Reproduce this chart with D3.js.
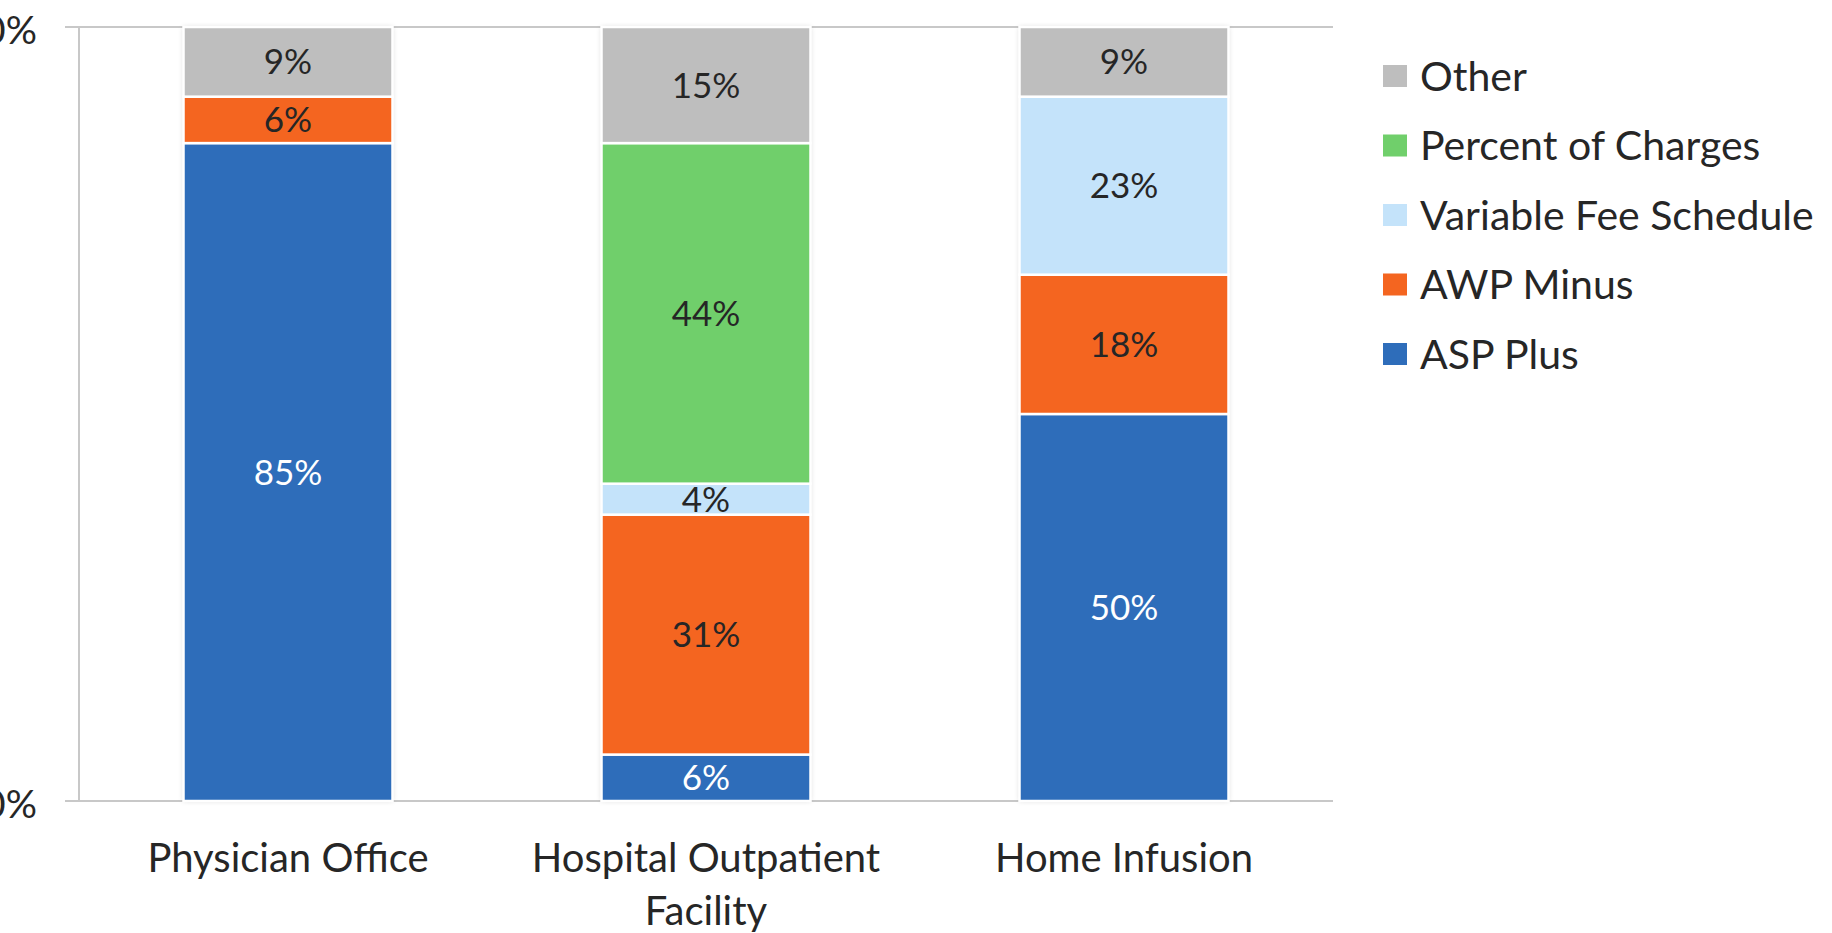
<!DOCTYPE html>
<html>
<head>
<meta charset="utf-8">
<script src="https://cdn.jsdelivr.net/npm/d3@7"></script>
<style>
  html, body { margin: 0; padding: 0; background: #fff; overflow: hidden; }
  svg { display: block; }
  text { font-family: Lato, "Open Sans", sans-serif; }
</style>
</head>
<body>
<svg id="chart" width="1832" height="933"></svg>
<script>
// ---- data ----
const categories = ["Physician Office", "Hospital Outpatient Facility", "Home Infusion"];
const seriesNames = ["ASP Plus", "AWP Minus", "Variable Fee Schedule", "Percent of Charges", "Other"];
const seriesColors = ["#2E6DBA", "#F46520", "#C4E3FA", "#70CF6B", "#BEBEBE"];
const labelColors = ["#ffffff", "#262626", "#262626", "#262626", "#262626"];
const aspPlus = [85, 6, 50];
const awpMinus = [6, 31, 18];
const variableFee = [0, 4, 23];
const percentCharges = [0, 44, 0];
const other = [9, 15, 9];
const yTickValues = [0, 100];

const seriesValues = [aspPlus, awpMinus, variableFee, percentCharges, other];

// ---- layout ----
const svg = d3.select("#chart");
const margin = { left: 79, right: 1832 - 1333, top: 27, bottom: 933 - 801 };
const W = 1832, H = 933;
const plotW = W - margin.left - margin.right;
const plotH = H - margin.top - margin.bottom;

const rows = categories.map((c, i) => {
  const r = { category: c };
  seriesNames.forEach((s, k) => r[s] = seriesValues[k][i]);
  return r;
});
const stack = d3.stack().keys(seriesNames)(rows);

const x = d3.scaleBand().domain(categories).range([0, plotW]).paddingInner(0.5).paddingOuter(0.25);
const y = d3.scaleLinear().domain([0, 100]).range([plotH, 0]);
const color = d3.scaleOrdinal().domain(seriesNames).range(seriesColors);

const defs = svg.append("defs");
const f = defs.append("filter").attr("id", "shadow").attr("x", "-10%").attr("y", "-5%").attr("width", "120%").attr("height", "110%");
f.append("feDropShadow").attr("dx", 0).attr("dy", 0).attr("stdDeviation", 2.5).attr("flood-color", "#000").attr("flood-opacity", 0.18);

const g = svg.append("g").attr("transform", `translate(${margin.left},${margin.top})`);

// axis lines (top gridline & baseline)
const axisColor = "#C8C8C8";
g.selectAll("line.h").data(yTickValues).enter().append("line")
  .attr("x1", -14).attr("x2", plotW)
  .attr("y1", d => y(d)).attr("y2", d => y(d))
  .attr("stroke", axisColor).attr("stroke-width", 2);
g.append("line").attr("x1", 0).attr("x2", 0).attr("y1", y(100)).attr("y2", y(0))
  .attr("stroke", axisColor).attr("stroke-width", 2);

// y labels
g.selectAll("text.ylab").data(yTickValues).enter().append("text")
  .attr("class", "ylab")
  .attr("x", 37 - margin.left).attr("y", d => y(d) + 3)
  .attr("dy", "0.35em").attr("text-anchor", "end")
  .attr("font-size", 39).attr("fill", "#262626")
  .text(d => d + "%");

// bar shadows
g.selectAll("rect.bg").data(categories).enter().append("rect")
  .attr("x", d => x(d)).attr("width", x.bandwidth())
  .attr("y", y(100)).attr("height", y(0) - y(100))
  .attr("fill", "#fff").attr("filter", "url(#shadow)");

// bars
const layers = g.selectAll("g.layer").data(stack).enter().append("g")
  .attr("fill", d => color(d.key));
layers.selectAll("rect").data(d => d.filter(p => p[1] - p[0] > 0)).enter().append("rect")
  .attr("x", d => x(d.data.category))
  .attr("width", x.bandwidth())
  .attr("y", d => y(d[1]))
  .attr("height", d => y(d[0]) - y(d[1]))
  .attr("stroke", "#fff").attr("stroke-width", 2.5);

// data labels
stack.forEach((layer, k) => {
  g.selectAll(null).data(layer.filter(p => p[1] - p[0] > 0)).enter().append("text")
    .attr("x", d => x(d.data.category) + x.bandwidth() / 2)
    .attr("y", d => (y(d[0]) + y(d[1])) / 2)
    .attr("dy", "0.36em")
    .attr("text-anchor", "middle")
    .attr("font-size", 35)
    .attr("fill", labelColors[k])
    .text(d => (d[1] - d[0]) + "%");
});

// category labels
const xAxisG = g.append("g").attr("transform", `translate(0,${plotH})`)
  .call(d3.axisBottom(x).tickSize(0).tickPadding(0));
xAxisG.select(".domain").remove();
xAxisG.selectAll("text")
  .attr("font-size", 40).attr("fill", "#262626").attr("y", 0).attr("dy", 0)
  .each(function(d) {
    const t = d3.select(this);
    const words = d.split(" ");
    t.text(null);
    let line = [];
    let lineNo = 0;
    let tspan = t.append("tspan").attr("x", 0).attr("y", 71);
    words.forEach(w => {
      line.push(w);
      tspan.text(line.join(" "));
      if (tspan.node().getComputedTextLength() > x.step() * 0.9 && line.length > 1) {
        line.pop();
        tspan.text(line.join(" "));
        line = [w];
        lineNo++;
        tspan = t.append("tspan").attr("x", 0).attr("y", 71 + lineNo * 53).text(w);
      }
    });
  });

// legend
const legendItems = seriesNames.slice().reverse();
const legend = svg.append("g").attr("transform", "translate(1383,76)");
const li = legend.selectAll("g").data(legendItems).enter().append("g")
  .attr("transform", (d, i) => `translate(0,${i * 69.5})`);
li.append("rect").attr("x", 0).attr("y", -11).attr("width", 24).attr("height", 22)
  .attr("fill", d => color(d));
li.append("text").attr("x", 37).attr("y", 0).attr("dy", "0.36em")
  .attr("font-size", 41).attr("fill", "#262626").text(d => d);
</script>
</body>
</html>
